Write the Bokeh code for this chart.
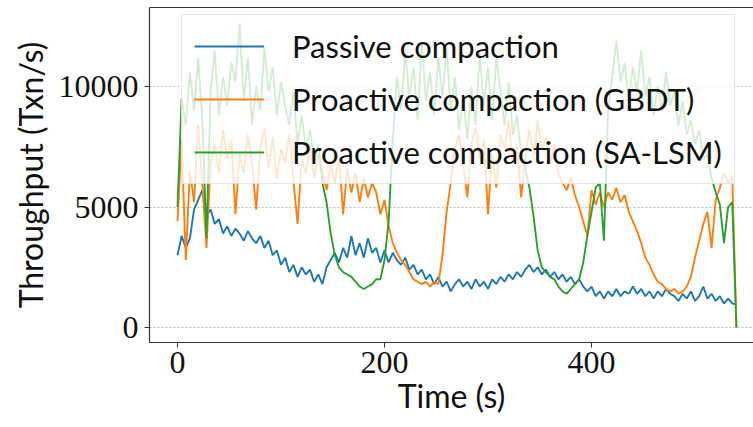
from bokeh.plotting import figure
from bokeh.models import Legend, LegendItem, LinearAxis, FixedTicker
from bokeh.embed import file_html
from bokeh.resources import INLINE

# ---------------- data ----------------
time_s = list(range(0, 541, 4))

passive = [
    3000, 3800, 3300, 3700, 4900, 5300, 5700, 4600, 4900, 4300,
    4500, 3900, 4200, 3800, 4100, 3900, 3600, 4000, 3700, 3500,
    3800, 3300, 3600, 3000, 3200, 2600, 2900, 2300, 2600, 2100,
    2500, 2200, 2400, 1900, 2200, 1800, 2500, 2800, 3100, 2700,
    3300, 2900, 3800, 3000, 3500, 2900, 3700, 3100, 3300, 2700,
    3200, 2700, 3100, 2800, 2600, 2900, 2400, 2600, 2200, 2400,
    2000, 2200, 1800, 2100, 1700, 1900, 1500, 1800, 2000, 1700,
    1900, 1600, 2000, 1700, 1900, 1600, 2000, 1800, 2100, 1900,
    2200, 2000, 2300, 2100, 2400, 2600, 2300, 2500, 2200, 2400,
    2100, 2300, 2000, 2200, 1900, 2100, 1800, 2000, 1700, 1500,
    1700, 1300, 1500, 1200, 1500, 1300, 1600, 1300, 1500, 1400,
    1700, 1400, 1600, 1300, 1500, 1200, 1500, 1300, 1600, 1400,
    1300, 1100, 1400, 1200, 1500, 1100, 1300, 1700, 1200, 1400,
    1100, 1300, 1000, 1200, 1000, 950,
]

gbdt = [
    4400, 7800, 2800, 6500, 5200, 8400, 6000, 3300, 6800, 7600,
    6400, 8200, 7000, 7800, 4700, 7200, 6400, 8000, 6800, 4900,
    7400, 8300, 6600, 7900, 6200, 7400, 6800, 8000, 6100, 4300,
    7000, 6400, 7600, 6200, 7200, 6500, 5700, 6800, 6000, 7100,
    4700, 6600, 5600, 6400, 5200, 6200, 5400, 6000, 5600, 4700,
    5300, 4200, 3500, 3100, 2800, 2600, 2300, 2000, 1900, 1800,
    1900, 1700, 1900, 1800, 3000, 4800, 6000, 7400, 8000, 6800,
    5400, 7600, 8300, 7000, 7800, 4700, 7200, 5800, 8000, 7400,
    8600, 6800, 7600, 5400, 7000, 8200, 7200, 8600, 7400, 7900,
    6800, 7600, 6400, 6000, 5700, 6200, 5500, 5000, 4400, 3800,
    5700, 5100, 5600, 5000, 5600, 5300, 5800, 5200, 5500, 4800,
    4400, 4000, 3500, 2900, 2600, 2200, 1900, 1800, 1600, 1500,
    1600, 1400, 1500, 1700, 2100, 2900, 3600, 4300, 4800, 3300,
    5300, 5800, 6400, 6000, 6300, 0,
]

salsm = [
    5000, 9500, 8400, 10600, 9000, 11200, 8600, 3700, 9800, 11500,
    8800, 10400, 9200, 11000, 10200, 12600, 9400, 11200, 8400, 10000,
    9000, 11600, 9800, 10800, 8800, 10200, 9200, 8400, 9800, 7600,
    8800, 7400, 8200, 6800, 7600, 6000, 5200, 3900, 3000, 2500,
    2300, 2200, 2100, 1900, 1700, 1600, 1700, 1800, 2000, 2000,
    2800, 4400, 7800, 10400, 9000, 11400, 9600, 10800, 8600, 11800,
    9400, 10600, 8800, 11200, 9600, 11600, 9000, 10400, 8200, 9600,
    7800, 10000, 8400, 11400, 9200, 10800, 8600, 11200, 9800, 8400,
    10200, 8000, 8800, 7200, 6600, 5800, 4600, 3200, 2500, 2300,
    2100, 2000, 1700, 1500, 1400, 1600, 1800, 2000, 2700, 3800,
    4800, 5800, 6000, 3600, 9000, 10400, 11900, 10200, 11000, 9400,
    10800, 9800, 11500, 9600, 10400, 8800, 10000, 9000, 10600, 9200,
    9800, 8400, 9400, 8000, 8600, 7600, 8200, 7000, 7200, 6200,
    5600, 5100, 3500, 5000, 5200, 0,
]

series_labels = [
    "Passive compaction",
    "Proactive compaction (GBDT)",
    "Proactive compaction (SA-LSM)",
]
series_colors = ["#1f77b4", "#ff7f0e", "#2ca02c"]
x_ticks = [0, 200, 400]
y_ticks = [0, 5000, 10000]
x_label = "Time (s)"
y_label = "Throughput (Txn/s)"

# ---------------- figure ----------------
p = figure(
    width=753, height=427,
    x_range=(-27.05, 556.5), y_range=(-622, 13278),
    output_backend="svg", toolbar_location=None,
    min_border_left=149, min_border_right=0,
    min_border_top=7, min_border_bottom=85,
    background_fill_color="white", border_fill_color="white",
)
p.outline_line_color = None

renderers = []
for ys, col in zip([passive, gbdt, salsm], series_colors):
    r = p.line(time_s, ys, line_color=col, line_width=1.9)
    renderers.append(r)

# axes
for ax in (p.xaxis[0], p.yaxis[0]):
    ax.axis_line_color = "#333333"
    ax.axis_line_width = 1.2
    ax.major_tick_line_color = "#333333"
    ax.major_tick_in = 0
    ax.major_tick_out = 5
    ax.minor_tick_line_color = None
    ax.major_label_text_font = "Liberation Serif"
    ax.major_label_text_font_size = "32px"
    ax.major_label_text_color = "#111111"
    ax.axis_label_text_font = "Lato"
    ax.axis_label_text_font_size = "32px"
    ax.axis_label_text_font_style = "normal"
    ax.axis_label_text_color = "#111111"

p.xaxis.ticker = FixedTicker(ticks=x_ticks)
p.yaxis.ticker = FixedTicker(ticks=y_ticks)
p.xaxis.axis_label = x_label
p.yaxis.axis_label = y_label
p.xaxis.major_label_standoff = 4
p.xaxis.axis_label_standoff = 0
p.yaxis.major_label_standoff = 6
p.yaxis.axis_label_standoff = 6

top = LinearAxis(
    ticker=FixedTicker(ticks=[]),
    major_tick_out=0, major_tick_in=0, minor_tick_out=0, minor_tick_in=0,
    major_label_text_font_size="0px",
    axis_line_color="#333333", axis_line_width=1.2,
)
p.add_layout(top, "above")

# grid
p.xgrid.visible = False
p.ygrid.grid_line_color = "#b0b0b0"
p.ygrid.grid_line_dash = "2 2"
p.ygrid.grid_line_width = 0.8

# legend
legend = Legend(
    items=[LegendItem(label=lab, renderers=[r]) for lab, r in zip(series_labels, renderers)],
    location=(32, 158),
    border_line_color="#cccccc", border_line_width=1,
    background_fill_color="white", background_fill_alpha=0.8,
    padding=12, spacing=15, margin=0,
    glyph_width=70, glyph_height=36, label_height=36,
    label_standoff=28,
    label_text_font="Lato", label_text_font_size="31px",
    label_text_color="#111111",
)
p.add_layout(legend)

open("out.html", "w").write(file_html(p, INLINE))
